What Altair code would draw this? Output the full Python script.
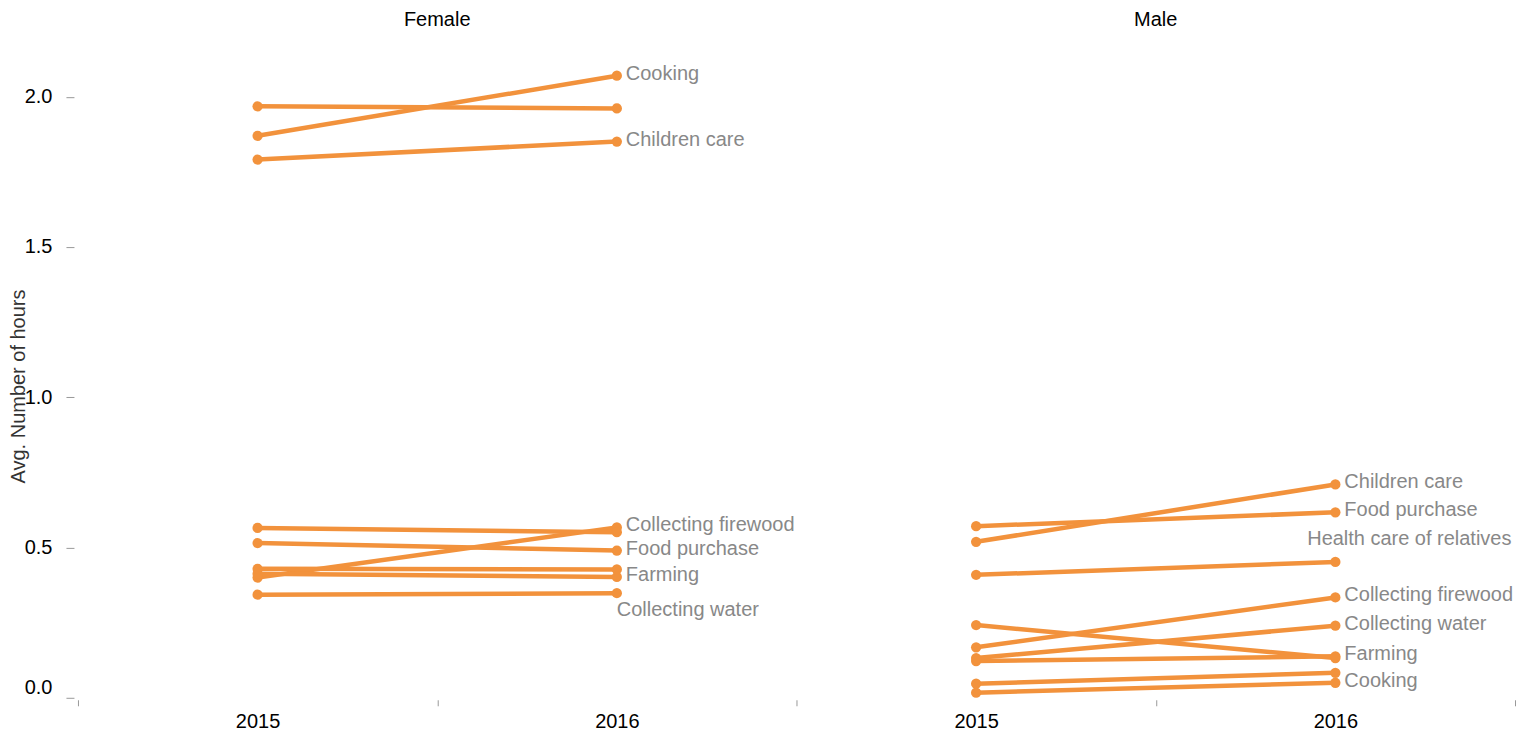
import altair as alt
import pandas as pd

# ---- data ----
genders = ["Female", "Male"]
years = ["2015", "2016"]
activities = ["Cooking", "Children care", "Cleaning", "Collecting firewood",
              "Food purchase", "Farming", "Health care of relatives",
              "Collecting water", "Laundry"]
female_2015 = [1.870, 1.791, 1.968, 0.400, 0.515, 0.413, 0.429, 0.343, 0.565]
female_2016 = [2.070, 1.851, 1.961, 0.567, 0.490, 0.402, 0.427, 0.348, 0.551]
male_2015 = [0.017, 0.519, 0.242, 0.168, 0.571, 0.122, 0.409, 0.132, 0.047]
male_2016 = [0.050, 0.710, 0.132, 0.334, 0.617, 0.138, 0.452, 0.240, 0.083]
female_labelled = ["Cooking", "Children care", "Collecting firewood",
                   "Food purchase", "Farming", "Collecting water"]
male_labelled = ["Cooking", "Children care", "Collecting firewood",
                 "Food purchase", "Farming", "Health care of relatives",
                 "Collecting water"]
label_place = {("Female", "Collecting water"): "below",
               ("Male", "Health care of relatives"): "above"}

ORANGE = "#f2923c"
FONT = "Liberation Sans"

values = {("Female", "2015"): female_2015, ("Female", "2016"): female_2016,
          ("Male", "2015"): male_2015, ("Male", "2016"): male_2016}
keys = [f"{g}|{y}" for g in genders for y in years]

rows = []
for g in genders:
    for y in years:
        for a, v in zip(activities, values[(g, y)]):
            rows.append({"gender": g, "year": y, "key": f"{g}|{y}",
                         "activity": a, "series": f"{g}-{a}", "hours": v})
df = pd.DataFrame(rows)

lab_rows = []
for g, shown in (("Female", female_labelled), ("Male", male_labelled)):
    for a in shown:
        v = values[(g, "2016")][activities.index(a)]
        lab_rows.append({"key": f"{g}|2016", "activity": a, "hours": v,
                         "place": label_place.get((g, a), "right")})
labels = pd.DataFrame(lab_rows)

heads = pd.DataFrame({"key": [f"{g}|2016" for g in genders], "gender": genders})

xscale = alt.Scale(domain=keys, paddingInner=0, paddingOuter=0)
yscale = alt.Scale(domain=[0, 2.075], nice=False)

x = alt.X("key:N", sort=keys, scale=xscale,
          axis=alt.Axis(title=None, labelExpr="split(datum.value, '|')[1]",
                        tickBand="extent", domain=False, tickSize=6,
                        tickColor="#999", offset=2, labelPadding=6,
                        labelAngle=0, labelFontSize=20, labelColor="#000",
                        labelFont=FONT, grid=False))
y = alt.Y("hours:Q", scale=yscale,
          axis=alt.Axis(values=[0, 0.5, 1, 1.5, 2], format=".1f",
                        title="Avg. Number of hours", domain=False,
                        tickSize=8, tickColor="#999", offset=4,
                        labelPadding=14, labelFlush=True, labelFontSize=20,
                        labelColor="#000", labelFont=FONT, titleFont=FONT,
                        titleFontSize=20, titleFontWeight="normal",
                        titleColor="#333", titlePadding=-4, grid=False))

base = alt.Chart(df)
lines = base.mark_line(color=ORANGE, strokeWidth=4.5).encode(x=x, y=y, detail="series:N")
points = base.mark_circle(color=ORANGE, size=105, opacity=1).encode(x=x, y=y, detail="series:N")

lab = alt.Chart(labels)
lab_right = lab.transform_filter("datum.place == 'right'").mark_text(
    align="left", baseline="middle", dx=9, dy=-2, fontSize=20, font=FONT, color="#888"
).encode(x=x, y=y, text="activity:N")
lab_below = lab.transform_filter("datum.place == 'below'").mark_text(
    align="left", baseline="middle", dx=0, dy=17, fontSize=20, font=FONT, color="#888"
).encode(x=x, y=y, text="activity:N")
lab_above = lab.transform_filter("datum.place == 'above'").mark_text(
    align="center", baseline="middle", dx=74, dy=-23, fontSize=20, font=FONT, color="#888"
).encode(x=x, y=y, text="activity:N")

head = alt.Chart(heads).mark_text(
    align="center", baseline="middle", fontSize=20, font=FONT, color="#000"
).encode(x=alt.X("key:N", sort=keys, scale=xscale, bandPosition=0),
         y=alt.value(-54), text="gender:N")

chart = alt.layer(lines, points, lab_right, lab_below, lab_above, head).properties(
    width=1438, height=624, padding={"left": 0, "top": 2, "right": 0, "bottom": 0}
).configure_view(stroke=None)

chart.save("out.html", embed_options={"renderer": "svg", "actions": False})
